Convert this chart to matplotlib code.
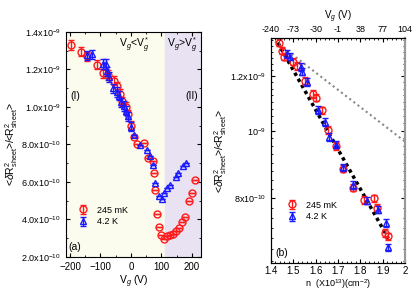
import numpy as np
import matplotlib
matplotlib.use("Agg")
import matplotlib.pyplot as plt
from matplotlib.ticker import FixedLocator, NullFormatter, AutoMinorLocator

plt.rcParams["font.family"] = ["Liberation Sans", "DejaVu Sans"]
plt.rcParams["mathtext.fontset"] = "custom"
plt.rcParams["mathtext.rm"] = "Liberation Sans"
plt.rcParams["mathtext.it"] = "Liberation Sans:italic"
plt.rcParams["font.size"] = 6.5

# panel (a): noise vs gate voltage, values in units of 1e-10
vg_245 = [-197, -165, -144, -112, -90, -75, -55, -47, -36, -28, -16, -9, 2, 12, 20,
          43, 56, 72, 76, 81, 87, 92, 100, 109, 120, 130, 139, 148, 158, 169, 179,
          191, 201, 212]
nz_245 = [13.3, 12.95, 12.7, 12.25, 11.8, 11.7, 11.4, 11.1, 10.7, 10.3, 10.0, 9.6, 9.0,
          8.4, 8.0, 8.1, 7.3, 7.1, 6.5, 5.55, 4.3, 3.6, 3.15, 2.98, 3.12, 3.18, 3.25,
          3.37, 3.54, 3.84, 4.15, 5.0, 5.4, 6.1]
vg_42 = [-144, -126, -93, -82, -78, -72, -58, -46, -40, -31, -23, -16, -10, 2, 12, 31,
         52, 62, 72, 81, 92, 102, 109, 118, 130, 147, 154, 170, 180]
nz_42 = [12.75, 12.8, 12.3, 12.3, 11.9, 11.6, 11.0, 10.8, 10.6, 10.25, 10.05, 9.8, 9.5,
         8.95, 8.5, 7.95, 7.7, 7.4, 6.9, 5.95, 5.25, 5.1, 5.4, 5.7, 5.85, 6.25, 6.5,
         6.85, 7.0]
err_a = 0.25

# panel (b): noise vs carrier density
n_245 = [1.436, 1.45, 1.46, 1.50, 1.515, 1.553, 1.59, 1.60, 1.63, 1.657, 1.69, 1.724,
         1.765, 1.815, 1.86, 1.875, 1.91, 1.925]
b_245 = [1.339, 1.304, 1.278, 1.257, 1.240, 1.180, 1.130, 1.116, 1.070, 1.003, 0.951,
         0.882, 0.828, 0.795, 0.800, 0.775, 0.713, 0.705]
n_42 = [1.47, 1.485, 1.535, 1.54, 1.56, 1.612, 1.64, 1.658, 1.69, 1.724, 1.765, 1.83,
        1.88, 1.915, 1.925]
b_42 = [1.290, 1.278, 1.236, 1.216, 1.176, 1.072, 1.030, 0.980, 0.955, 0.886, 0.836,
        0.793, 0.770, 0.737, 0.680]
rel_err_b = 0.012

fit_n = [1.43, 1.925]
fit_b = [1.34, 0.70]
ref_n = [1.40, 2.00]
ref_b = [1.36, 0.965]

top_ticks = [1.4, 1.5, 1.6, 1.7, 1.8, 1.9, 2.0]
top_labels = ["-240", "-73", "-30", "-1", "38", "77", "104"]

RED = "#ff1a1a"
BLUE = "#1a1aff"
ylab = r"<$\delta$R$^2_{\mathrm{sheet}}$>/<R$^2_{\mathrm{sheet}}$>"

fig = plt.figure(figsize=(4.15, 2.93), dpi=100)
ax1 = fig.add_axes([0.159, 0.123, 0.325, 0.768])
ax2 = fig.add_axes([0.653, 0.102, 0.323, 0.768])

# ---- panel (a)
vstar = 112
ax1.axvspan(-213, vstar, color="#fbfbee", zorder=0)
ax1.axvspan(vstar, 230, color="#e8e2f2", zorder=0)
ax1.errorbar(np.array(vg_245), np.array(nz_245) * 1e-10,
             yerr=np.where(np.array(vg_245) < 10, err_a, 0) * 1e-10,
             fmt="o", ms=5, mfc="none", mec=RED, ecolor=RED, mew=1, elinewidth=1,
             capsize=2, label="245 mK", zorder=3)
ax1.errorbar(np.array(vg_42), np.array(nz_42) * 1e-10,
             yerr=np.where(np.array(vg_42) < 10, err_a, 0) * 1e-10,
             fmt="^", ms=5, mfc="none", mec=BLUE, ecolor=BLUE, mew=1, elinewidth=1,
             capsize=2, label="4.2 K", zorder=4)
ax1.set_xlim(-213, 230)
ax1.set_ylim(2.0e-10, 1.4e-9)
yt = np.arange(2, 15, 2) * 1e-10
ax1.set_yticks(yt)
ax1.set_yticklabels([r"%.1fx10$^{-10}$" % v for v in [2, 4, 6, 8]] +
                    [r"%.1fx10$^{-9}$" % v for v in [1.0, 1.2, 1.4]])
ax1.set_xticks([-200, -100, 0, 100, 200])
ax1.tick_params(axis="x", labelsize=7)
ax1.xaxis.set_minor_locator(AutoMinorLocator(2))
ax1.yaxis.set_minor_locator(AutoMinorLocator(2))
ax1.tick_params(which="both", direction="in", top=True, right=True)
ax1.tick_params(which="major", length=3)
ax1.tick_params(which="minor", length=1.5)
ax1.set_xlabel(r"V$_g$ (V)", fontsize=7.5, labelpad=1)
ax1.set_ylabel(ylab, fontsize=7.5, labelpad=1)
ax1.text(-197, 10.6e-10, "(I)", fontsize=7.5, va="center", ha="left")
ax1.text(222, 10.6e-10, "(II)", fontsize=7.5, va="center", ha="right")
ax1.text(10, 13.15e-10, r"V$_g$<V$_g^*$", fontsize=7.5, ha="center")
ax1.text(168, 13.15e-10, r"V$_g$>V$_g^*$", fontsize=7.5, ha="center")
ax1.text(0.02, 0.03, "(a)", transform=ax1.transAxes, fontsize=7.5)
ax1.legend(loc="lower left", bbox_to_anchor=(0.03, 0.12), frameon=False, fontsize=6.5,
           handletextpad=0.6, borderaxespad=0, labelspacing=0.3)

# ---- panel (b)
ax2.plot(ref_n, np.array(ref_b) * 1e-9, ls=(0, (1, 1.5)), color="#888888", lw=1.5, zorder=2)
ax2.plot(fit_n, np.array(fit_b) * 1e-9, ls=(0, (1, 1)), color="black", lw=2.5, zorder=2)
b245 = np.array(b_245) * 1e-9
b42 = np.array(b_42) * 1e-9
ax2.errorbar(n_245, b245, yerr=b245 * rel_err_b, fmt="o", ms=5, mfc="none", mec=RED,
             ecolor=RED, mew=1, elinewidth=1, capsize=2, label="245 mK", zorder=3)
ax2.errorbar(n_42, b42, yerr=b42 * rel_err_b, fmt="^", ms=5, mfc="none", mec=BLUE,
             ecolor=BLUE, mew=1, elinewidth=1, capsize=2, label="4.2 K", zorder=4)
ax2.set_yscale("log")
ax2.set_xlim(1.4, 2.0)
ax2.set_ylim(6.45e-10, 1.36e-9)
ax2.yaxis.set_major_locator(FixedLocator([8e-10, 1e-9, 1.2e-9]))
ax2.set_yticklabels([r"8x10$^{-10}$", r"10$^{-9}$", r"1.2x10$^{-9}$"])
ax2.yaxis.set_minor_locator(FixedLocator(np.arange(6.5, 13.6, 0.25) * 1e-10))
ax2.yaxis.set_minor_formatter(NullFormatter())
ax2.set_xticks(top_ticks)
ax2.set_xticklabels(["1.4", "1.5", "1.6", "1.7", "1.8", "1.9", "2"])
ax2.tick_params(axis="x", labelsize=7, pad=2)
ax2.xaxis.set_minor_locator(AutoMinorLocator(5))
ax2.tick_params(which="both", direction="in", right=True)
ax2.tick_params(which="major", length=3)
ax2.tick_params(which="minor", length=1.5)
ax2.set_xlabel(r"n  (X10$^{13}$)(cm$^{-2}$)", fontsize=6.5, labelpad=1)
ax2.set_ylabel(ylab, fontsize=7.5, labelpad=1)
ax2.spines["right"].set_color("#999999")
ax2.spines["right"].set_linewidth(1.5)

top = ax2.twiny()
top.set_xlim(ax2.get_xlim())
top.set_xticks(top_ticks)
top.set_xticklabels(top_labels)
top.xaxis.set_minor_locator(AutoMinorLocator(5))
top.tick_params(which="both", direction="in", pad=3, labelsize=6.5)
top.tick_params(which="major", length=3)
top.tick_params(which="minor", length=1.5)
top.set_xlabel(r"V$_g$ (V)", fontsize=7, labelpad=4)
top.spines["right"].set_color("#999999")
top.spines["right"].set_linewidth(1.5)

ax2.text(0.03, 0.03, "(b)", transform=ax2.transAxes, fontsize=7.5)
ax2.legend(loc="lower left", bbox_to_anchor=(0.06, 0.17), frameon=False, fontsize=6.5,
           handletextpad=0.6, borderaxespad=0, labelspacing=0.3)

fig.savefig("out.png", dpi=100)
